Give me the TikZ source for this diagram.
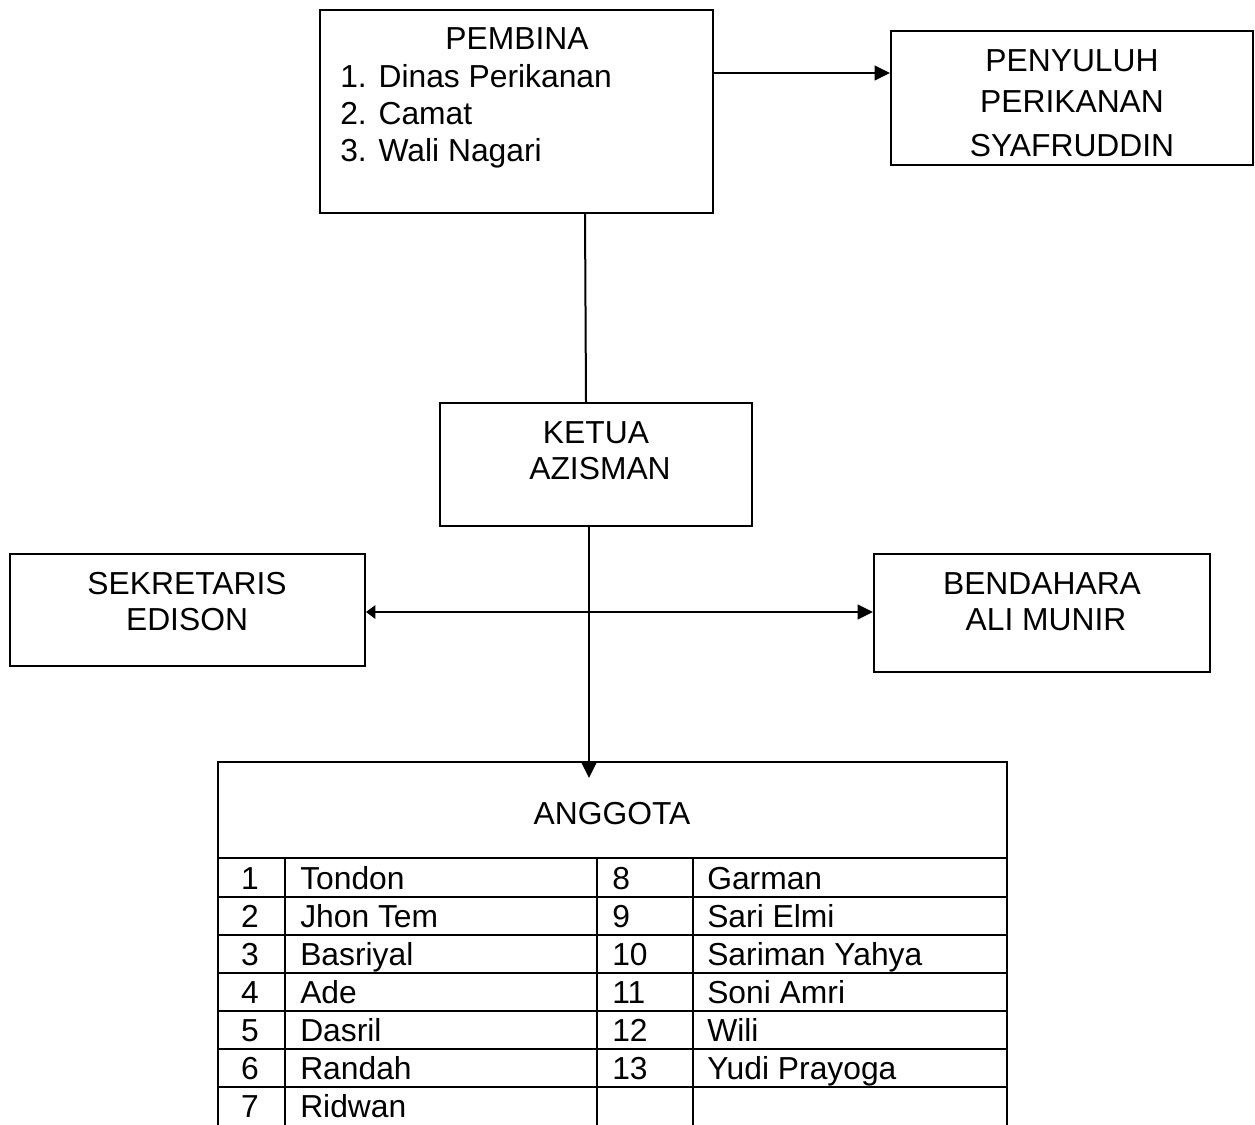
\documentclass[tikz,border=0pt]{standalone}
\usepackage{fontspec}
\setmainfont{Liberation Sans}
\usetikzlibrary{arrows.meta}
\begin{document}
\begin{tikzpicture}[x=0.75pt,y=-0.75pt,
  every node/.style={font=\fontsize{23.85}{28}\selectfont, inner sep=0pt},
  box/.style={draw, line width=1.5pt, rectangle},
  lbl/.style={anchor=base},
  lbll/.style={anchor=base west},
  conn/.style={line width=1.5pt},
  arr/.style={conn, -{Triangle[length=11.5pt,width=11pt]}},
  arrs/.style={conn, -{Triangle[length=7pt,width=10pt]}},
  grid/.style={line width=1.5pt}]
\useasboundingbox (0,0) rectangle (1255,1124);
% boxes
\node[box, minimum width=393*0.75pt, minimum height=203*0.75pt] (pembina) at (516.5,111.5) {};
\node[box, minimum width=362*0.75pt, minimum height=134*0.75pt] (penyuluh) at (1072,98) {};
\node[box, minimum width=312*0.75pt, minimum height=123*0.75pt] (ketua) at (596,464.5) {};
\node[box, minimum width=355*0.75pt, minimum height=112*0.75pt] (sek) at (187.5,610) {};
\node[box, minimum width=336*0.75pt, minimum height=118*0.75pt] (bend) at (1042,613) {};
\node[box, minimum width=789*0.75pt, minimum height=96*0.75pt] (anggota) at (612.5,810) {};
% texts
\node[lbl] (t1) at (517,50) {PEMBINA};
\node[lbll] (t2) at (340,87) {1. Dinas Perikanan};
\node[lbll] (t3) at (340,124) {2. Camat};
\node[lbll] (t4) at (340,161) {3. Wali Nagari};
\node[lbl] (t5) at (1072,71) {PENYULUH};
\node[lbl] (t6) at (1072,113) {PERIKANAN};
\node[lbl] (t7) at (1072,156) {SYAFRUDDIN};
\node[lbl] (t8) at (596,443) {KETUA};
\node[lbl] (t9) at (600,479) {AZISMAN};
\node[lbl] (t10) at (187,594) {SEKRETARIS};
\node[lbl] (t11) at (187,630) {EDISON};
\node[lbl] (t12) at (1042,594) {BENDAHARA};
\node[lbl] (t13) at (1046,630) {ALI MUNIR};
\node[lbl] (t14) at (612,824) {ANGGOTA};
% connectors
\draw[arr] (pembina.east |- 0,73) -- (penyuluh.west |- 0,73);
\draw[conn] (pembina.south -| 585,0) -- (ketua.north -| 586,0);
\coordinate (tip) at (589,778);
\draw[arr] (ketua.south -| 589,0) -- (tip);
\coordinate (hc) at (575,612);
\draw[arrs] (hc) -- (sek.east |- hc);
\draw[arr] (hc) -- (bend.west |- hc);
% table grid
\foreach \yy in {897,935,973,1011,1049,1087} \draw[grid] (218,\yy) -- (1007,\yy);
\foreach \xx in {218,285,597,693,1007} \draw[grid] (\xx,858) -- (\xx,1130);
% table entries
\foreach \n/\name/\yy in {1/Tondon/889,2/Jhon Tem/927,3/Basriyal/965,4/Ade/1003,5/Dasril/1041,6/Randah/1079,7/Ridwan/1117}{
  \node[lbl] (n\n) at (250,\yy) {\n};
  \node[lbll] (m\n) at (300,\yy) {\name};
}
\foreach \n/\name/\yy in {8/Garman/889,9/Sari Elmi/927,10/Sariman Yahya/965,11/Soni Amri/1003,12/Wili/1041,13/Yudi Prayoga/1079}{
  \node[lbll] (n\n) at (612,\yy) {\n};
  \node[lbll] (m\n) at (707,\yy) {\name};
}
\end{tikzpicture}
\end{document}
